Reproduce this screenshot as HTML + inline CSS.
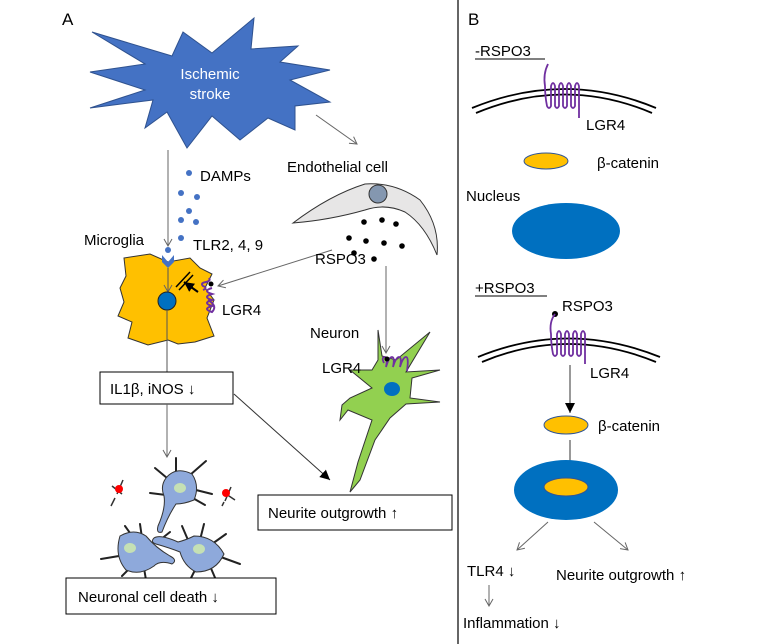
<!DOCTYPE html>
<html><head><meta charset="utf-8"><style>
html,body{margin:0;padding:0;background:#fff}
svg{display:block}
text{font-family:"Liberation Sans",sans-serif;fill:#000}
</style></head><body>
<svg width="768" height="644" viewBox="0 0 768 644" xmlns="http://www.w3.org/2000/svg">
<defs>
<marker id="og" markerWidth="10" markerHeight="10" refX="8" refY="5" orient="auto" markerUnits="userSpaceOnUse"><path d="M1,1 L8,5 L1,9" fill="none" stroke="#666" stroke-width="1"/></marker>
<marker id="bk" markerWidth="12" markerHeight="12" refX="10" refY="6" orient="auto" markerUnits="userSpaceOnUse"><path d="M0,1 L10,6 L0,11 Z" fill="#000"/></marker>
</defs>
<line x1="458" y1="0" x2="458" y2="644" stroke="#333" stroke-width="1.5"/>
<text x="62" y="25" font-size="17">A</text>
<text x="468" y="25" font-size="17">B</text>
<polygon points="92,32 172,56 183,32 212,53 254,18 251,49 298,46 280,62 330,70 290,80 330,102 295,106 295,130 268,118 240,140 212,116 187,148 167,112 145,128 153,100 90,108 145,90 90,72 145,64" fill="#4472C4" stroke="#2F528F" stroke-width="1"/>
<text x="210" y="79" font-size="15" style="fill:#fff" text-anchor="middle">Ischemic</text>
<text x="210" y="99" font-size="15" style="fill:#fff" text-anchor="middle">stroke</text>
<line x1="168" y1="150" x2="168" y2="246" stroke="#666" marker-end="url(#og)"/>
<line x1="316" y1="115" x2="357" y2="144" stroke="#666" marker-end="url(#og)"/>
<g fill="#4472C4">
<circle cx="189" cy="173" r="3"/><circle cx="181" cy="193" r="3"/><circle cx="197" cy="197" r="3"/><circle cx="189" cy="211" r="3"/><circle cx="181" cy="220" r="3"/><circle cx="196" cy="222" r="3"/><circle cx="181" cy="238" r="3"/><circle cx="168" cy="250" r="3"/>
</g>
<text x="200" y="181" font-size="15">DAMPs</text>
<text x="84" y="245" font-size="15">Microglia</text>
<text x="193" y="250" font-size="15">TLR2, 4, 9</text>
<path d="M124,258 L150,254 L168,262 L190,258 L200,268 L212,274 L205,288 L214,300 L207,318 L214,336 L195,342 L178,344 L168,340 L148,345 L128,338 L132,322 L118,316 L124,302 L120,288 L126,276 Z" fill="#FFC000" stroke="#333" stroke-width="1"/>
<path d="M162,255 L168,262 L174,255 L174,262 L168,268 L162,262 Z" fill="#4472C4"/>
<line x1="168" y1="268" x2="168" y2="292" stroke="#555" marker-end="url(#og)"/>
<line x1="176" y1="287" x2="190" y2="272" stroke="#000" stroke-width="1.5"/><line x1="179" y1="290" x2="193" y2="275" stroke="#000" stroke-width="1.5"/>
<line x1="198" y1="292" x2="184" y2="282" stroke="#000" stroke-width="2" marker-end="url(#bk)"/>
<circle cx="167" cy="301" r="9" fill="#0070C0" stroke="#222"/>
<path d="M212,288 q-10,3 0,6 q-10,3 0,6 q-10,3 0,6 q-10,3 0,6 q6,-6 -4,-12" fill="none" stroke="#7030A0" stroke-width="2"/>
<path d="M203,290 q5,-2 0,-4 q-3,-3 3,-4 q5,-1 3,-4" fill="none" stroke="#7030A0" stroke-width="2"/>
<circle cx="211" cy="284" r="2.5" fill="#000"/>
<text x="222" y="315" font-size="15">LGR4</text>
<line x1="167" y1="310" x2="167" y2="372" stroke="#555"/>
<rect x="100" y="372" width="133" height="32" fill="#fff" stroke="#000"/>
<text x="110" y="394" font-size="15">IL1β, iNOS ↓</text>
<line x1="167" y1="404" x2="167" y2="457" stroke="#666" marker-end="url(#og)"/>
<line x1="234" y1="394" x2="330" y2="480" stroke="#333" marker-end="url(#bk)"/>
<!-- dying neurons -->
<g stroke="#222" stroke-width="2" stroke-linecap="round">
<path d="M167,478 l-12,-10 M176,472 l0,-14 M190,475 l16,-14 M196,490 l16,4 M191,497 l14,8 M166,495 l-16,-2"/>
<path d="M135,540 l-10,-14 M142,538 l-2,-14 M160,540 l10,-8 M125,555 l-24,4 M132,566 l-10,10 M144,568 l2,12"/>
<path d="M188,540 l-6,-14 M200,540 l4,-16 M212,544 l14,-10 M218,556 l22,8 M210,566 l6,14 M196,568 l-6,12"/>
</g>
<g stroke="#333" stroke-width="1" fill="#8EA9DB">
<path d="M166,478 Q176,466 192,474 Q200,486 194,500 Q184,504 176,504 Q168,516 162,532 Q156,534 158,526 Q166,508 164,496 Q160,486 166,478 Z"/>
<path d="M120,536 Q134,528 146,536 Q156,548 170,556 Q178,560 172,564 Q160,560 154,566 Q140,576 126,570 Q114,556 120,536 Z"/>
<path d="M154,538 Q160,534 178,542 Q186,540 194,536 Q214,536 224,554 Q216,572 196,572 Q184,566 180,552 Q170,548 156,544 Q150,542 154,538 Z"/>
</g>
<g fill="#C5E0B4"><ellipse cx="180" cy="488" rx="6" ry="5"/><ellipse cx="130" cy="548" rx="6" ry="5"/><ellipse cx="199" cy="549" rx="6" ry="5"/></g>
<g stroke="#333" stroke-width="1.5"><path d="M112,486 l10,8 M123,480 l-6,14 M115,498 l-4,8 M223,492 l12,8 M231,487 l-6,14 M224,502 l-2,4"/></g>
<circle cx="119" cy="489" r="4" fill="#f00"/><circle cx="226" cy="493" r="4" fill="#f00"/>
<rect x="66" y="578" width="210" height="36" fill="#fff" stroke="#000"/>
<text x="78" y="602" font-size="15">Neuronal cell death ↓</text>
<text x="287" y="172" font-size="15">Endothelial cell</text>
<path d="M293,223 Q330,195 365,184 Q395,182 420,200 Q440,225 437,255 Q425,225 405,212 Q385,203 365,210 Q330,220 293,223 Z" fill="#E7E6E6" stroke="#333"/>
<circle cx="378" cy="194" r="9" fill="#8497B0" stroke="#333"/>
<g fill="#000"><circle cx="364" cy="222" r="2.8"/><circle cx="382" cy="220" r="2.8"/><circle cx="396" cy="224" r="2.8"/><circle cx="349" cy="238" r="2.8"/><circle cx="366" cy="241" r="2.8"/><circle cx="384" cy="243" r="2.8"/><circle cx="402" cy="246" r="2.8"/><circle cx="354" cy="253" r="2.8"/><circle cx="374" cy="259" r="2.8"/></g>
<line x1="332" y1="250" x2="218" y2="286" stroke="#666" marker-end="url(#og)"/>
<text x="315" y="264" font-size="15">RSPO3</text>
<line x1="386" y1="266" x2="386" y2="353" stroke="#666" marker-end="url(#og)"/>
<g stroke="#333" stroke-width="1">
<path d="M378,360 L378,330 L382,356 L396,360 L430,332 L406,372 L440,370 L412,378 L410,398 L440,402 L406,404 L390,418 L375,440 L360,480 L350,492 L358,462 L372,420 L348,410 L340,420 L342,405 L350,398 L372,388 L350,370 L372,370 Z" fill="#92D050"/>
</g>
<ellipse cx="392" cy="389" rx="8" ry="7" fill="#0070C0"/>
<path d="M384,363 q-3,-6 1,-6 q3,0 1,10 q3,-10 6,-10 q3,0 1,10 q3,-10 6,-10 q3,0 1,10 q3,-10 6,-10 q3,0 1,14" fill="none" stroke="#7030A0" stroke-width="1.8"/>
<circle cx="387" cy="359" r="2.5" fill="#000"/>
<text x="310" y="338" font-size="15">Neuron</text>
<text x="322" y="373" font-size="15">LGR4</text>
<rect x="258" y="495" width="194" height="35" fill="#fff" stroke="#000"/>
<text x="268" y="518" font-size="15">Neurite outgrowth ↑</text>
<text x="475" y="56" font-size="15">-RSPO3</text>
<line x1="475" y1="59" x2="545" y2="59" stroke="#000"/>
<path d="M472,108 Q565,70 656,108" fill="none" stroke="#000" stroke-width="1.8"/>
<path d="M476,113 Q565,76 652,113" fill="none" stroke="#000" stroke-width="1.8"/>
<path d="M548,64 q-5,10 -3,22 q0,10 2,20 q2,4 4,0 l0,-20 q2,-6 4,0 l0,20 q2,4 4,0 l0,-20 q2,-6 4,0 l0,20 q2,4 4,0 l0,-20 q2,-6 4,0 l0,20 q2,4 4,0 l0,-20 q2,-6 4,0 l0,32" fill="none" stroke="#7030A0" stroke-width="1.8"/>
<text x="586" y="130" font-size="15">LGR4</text>
<ellipse cx="546" cy="161" rx="22" ry="8" fill="#FFC000" stroke="#2F5597"/>
<text x="597" y="168" font-size="15">β-catenin</text>
<text x="466" y="201" font-size="15">Nucleus</text>
<ellipse cx="566" cy="231" rx="54" ry="28" fill="#0070C0"/>
<text x="475" y="293" font-size="15">+RSPO3</text>
<line x1="475" y1="296" x2="547" y2="296" stroke="#000"/>
<text x="562" y="311" font-size="15">RSPO3</text>
<circle cx="555" cy="314" r="3" fill="#000"/>
<path d="M478,357 Q568,320 660,357" fill="none" stroke="#000" stroke-width="1.8"/>
<path d="M482,362 Q568,326 656,362" fill="none" stroke="#000" stroke-width="1.8"/>
<path d="M555,314 q-6,8 -4,20 q0,10 2,20 q2,4 4,0 l0,-20 q2,-6 4,0 l0,20 q2,4 4,0 l0,-20 q2,-6 4,0 l0,20 q2,4 4,0 l0,-20 q2,-6 4,0 l0,20 q2,4 4,0 l0,-20 q2,-6 4,0 l0,30" fill="none" stroke="#7030A0" stroke-width="1.8"/>
<text x="590" y="378" font-size="15">LGR4</text>
<line x1="570" y1="365" x2="570" y2="413" stroke="#333" marker-end="url(#bk)"/>
<ellipse cx="566" cy="425" rx="22" ry="9" fill="#FFC000" stroke="#2F5597"/>
<text x="598" y="431" font-size="15">β-catenin</text>
<line x1="570" y1="440" x2="570" y2="478" stroke="#333" marker-end="url(#bk)"/>
<ellipse cx="566" cy="490" rx="52" ry="30" fill="#0070C0"/>
<ellipse cx="566" cy="487" rx="22" ry="9" fill="#FFC000" stroke="#2F5597"/>
<line x1="548" y1="522" x2="517" y2="550" stroke="#666" marker-end="url(#og)"/>
<line x1="594" y1="522" x2="628" y2="550" stroke="#666" marker-end="url(#og)"/>
<text x="467" y="576" font-size="15">TLR4 ↓</text>
<text x="556" y="580" font-size="15">Neurite outgrowth ↑</text>
<line x1="489" y1="585" x2="489" y2="606" stroke="#666" marker-end="url(#og)"/>
<text x="463" y="628" font-size="15">Inflammation ↓</text>
</svg>
</body></html>
